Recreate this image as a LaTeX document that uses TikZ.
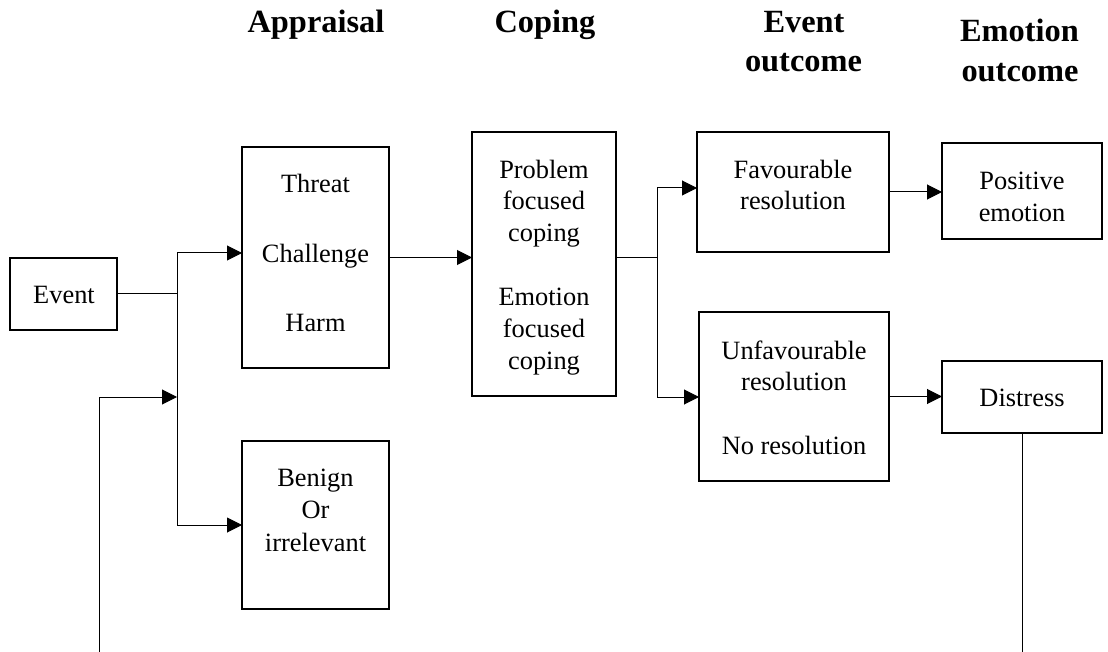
\documentclass[tikz,border=0pt]{standalone}
\usepackage{fontspec}
\setmainfont{Liberation Serif}
\usetikzlibrary{arrows.meta}
\tikzset{
  txt/.style={anchor=base, inner sep=0pt, font=\fontsize{13.2pt}{15.8pt}\selectfont},
  hdr/.style={anchor=base, inner sep=0pt, font=\bfseries\fontsize{16.2pt}{19.75pt}\selectfont},
  box/.style 2 args={draw, line width=1pt, inner sep=0pt, outer sep=0pt, minimum width=#1*0.5pt, minimum height=#2*0.5pt},
  conn/.style={line width=0.5pt},
  arr/.style={conn, -{Triangle[length=7.5pt,width=7.5pt]}}
}
\begin{document}
\begin{tikzpicture}[x=0.5pt, y=-0.5pt]
\useasboundingbox (0,0) rectangle (1108,652);
% boxes
\node[box={107}{72}]  (ev)  at (63.5,294) {};
\node[box={147}{221}] (thr) at (315.5,257.5) {};
\node[box={147}{168}] (ben) at (315.5,525) {};
\node[box={144}{264}] (cop) at (544,264) {};
\node[box={192}{120}] (fav) at (793,192) {};
\node[box={190}{169}] (unf) at (794,396.5) {};
\node[box={160}{96}]  (pos) at (1022,191) {};
\node[box={160}{72}]  (dis) at (1022,397) {};
% headers
\node[hdr] (h1) at (316,33) {Appraisal};
\node[hdr] (h2) at (545,33) {Coping};
\node[hdr] (h3) at (804,33) {Event};
\node[hdr] (h3b) at (803.5,72) {outcome};
\node[hdr] (h4) at (1019.5,42) {Emotion};
\node[hdr] (h4b) at (1020,82) {outcome};
% texts
\node[txt] (tev) at (64,303.3) {Event};
\node[txt] (tth1) at (315.5,192.7) {Threat};
\node[txt] (tth2) at (315.5,262.7) {Challenge};
\node[txt] (tth3) at (315.5,331.7) {Harm};
\node[txt] (tbe1) at (315.5,486.7) {Benign};
\node[txt] (tbe2) at (315.5,518.3) {Or};
\node[txt] (tbe3) at (315.5,551.7) {irrelevant};
\node[txt] (tco1) at (544,178.3) {Problem};
\node[txt] (tco2) at (544,210) {focused};
\node[txt] (tco3) at (544,241.7) {coping};
\node[txt] (tco4) at (544,306) {Emotion};
\node[txt] (tco5) at (544,337.3) {focused};
\node[txt] (tco6) at (544,369.3) {coping};
\node[txt] (tfa1) at (793,178.3) {Favourable};
\node[txt] (tfa2) at (793,210) {resolution};
\node[txt] (tun1) at (794,359.3) {Unfavourable};
\node[txt] (tun2) at (794,390.7) {resolution};
\node[txt] (tun3) at (794,454) {No resolution};
\node[txt] (tpo1) at (1022,190) {Positive};
\node[txt] (tpo2) at (1022,221.7) {emotion};
\node[txt] (tdi) at (1022,406.7) {Distress};
% junction coordinates
\coordinate (jA) at (177,253);
\coordinate (jB) at (177,525);
\coordinate (fb0) at (99,652);
\coordinate (fb1) at (99,397);
\coordinate (jC) at (657,258);
\coordinate (jCt) at (657,188);
\coordinate (jCb) at (657,397);
\coordinate (dend) at (1022,652);
% connectors
\draw[conn] (ev.east) -- (ev.east -| jA);
\draw[conn] (jA) -- (jB);
\draw[arr] (jA) -- (jA -| thr.west);
\draw[arr] (jB) -- (jB -| ben.west);
\draw[arr] (fb0) -- (fb1) -- (fb1 -| jA);
\draw[arr] (thr.east) -- (thr.east -| cop.west);
\draw[conn] (cop.east |- jC) -- (jC);
\draw[conn] (jCt) -- (jCb);
\draw[arr] (jCt) -- (jCt -| fav.west);
\draw[arr] (jCb) -- (jCb -| unf.west);
\draw[arr] (fav.east) -- (fav.east -| pos.west);
\draw[arr] (unf.east) -- (unf.east -| dis.west);
\draw[conn] (dis.south) -- (dend);
\end{tikzpicture}
\end{document}
